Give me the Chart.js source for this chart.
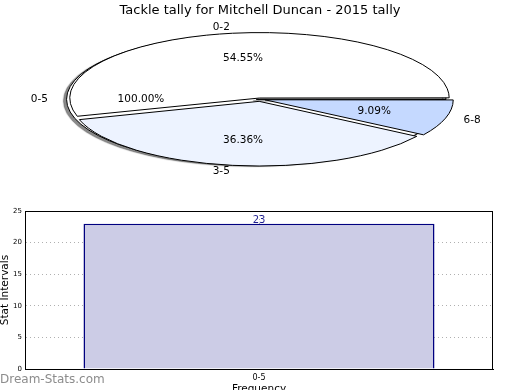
<!DOCTYPE html>
<html>
<head>
<meta charset="utf-8">
<script src="https://cdn.jsdelivr.net/npm/chart.js@4.4.1/dist/chart.umd.min.js"></script>
<style>
  html, body { margin:0; padding:0; background:#fff; }
  #wrap { position:relative; width:520px; height:390px; overflow:hidden; }
  #wrap canvas { position:absolute; left:0; }
  #mark { position:absolute; left:0; top:373px; font:12px/12px "DejaVu Sans"; color:#8c8c8c; white-space:nowrap; }
</style>
</head>
<body>
<div id="wrap">
  <canvas id="back" width="520" height="190" style="top:0"></canvas>
  <canvas id="front" width="520" height="190" style="top:0"></canvas>
  <canvas id="bars" width="520" height="195" style="top:195px"></canvas>
  <div id="mark">Dream-Stats.com</div>
</div>
<script>
// datos del gráfico
const TITLE = "Tackle tally for Mitchell Duncan - 2015 tally";
const pieCategories = ["0-2", "3-5", "6-8"];
const pieCounts = [6, 4, 1];
const pieColours = ["#ffffff", "#edf3ff", "#c5d9ff"];
const totalCategories = ["0-5"];
const totalCounts = [1];
const barCategories = ["0-5"];
const barValues = [23];
const yTicks = [0, 5, 10, 15, 20, 25];

Chart.defaults.font.family = "DejaVu Sans";
Chart.defaults.color = "#000";

const PIE_R = 186;       // radio horizontal
const SQUASH = 0.345;    // relación vertical/horizontal
const EXPLODE = 0.04;    // separación de porciones (fracción del radio)

let backChart = null;    // torta de fondo (0-5), sus etiquetas van encima

// offset de Chart.js equivalente al "explode" de matplotlib
function explodeOffset(c){
  const data = c.dataset.data;
  const tot = data.reduce((a,b)=>a+b,0);
  const circ = data[c.dataIndex]/tot*2*Math.PI;
  const fix = 1 - Math.sin(Math.min(Math.PI, circ));
  return 4*EXPLODE*PIE_R/(1+fix);
}

// etiquetas y porcentajes de una torta (posición como matplotlib)
function drawPieLabels(ctx, chart){
  const meta = chart.getDatasetMeta(0);
  const data = chart.data.datasets[0].data;
  const tot = data.reduce((a,b)=>a+b,0);
  ctx.save();
  ctx.fillStyle = "#000";
  ctx.font = "10.5px 'DejaVu Sans'";
  ctx.textBaseline = "middle";
  meta.data.forEach((arc, i) => {
    const h = (arc.startAngle + arc.endAngle)/2;
    const circ = arc.endAngle - arc.startAngle;
    const fix = 1 - Math.sin(Math.min(Math.PI, circ));
    const t = (arc.options.offset/4)*(1+fix);
    const cx = arc.x + Math.cos(h)*t;
    const cy = arc.y + Math.sin(h)*t*SQUASH;
    const R = arc.outerRadius;
    const lx = cx + 1.1*R*Math.cos(h);
    const ly = cy + 1.1*R*SQUASH*Math.sin(h);
    ctx.textAlign = (lx - arc.x) > 0 ? "left" : "right";
    ctx.fillText(chart.data.labels[i], lx, ly);
    ctx.textAlign = "center";
    const px = cx + 0.6*R*Math.cos(h);
    const py = cy + 0.6*R*SQUASH*Math.sin(h);
    ctx.fillText((100*data[i]/tot).toFixed(2) + "%", px, py);
  });
  ctx.restore();
}

// aplasta la torta en una elipse, con trazos sin deformar
const squashPlugin = {
  id: "squash",
  beforeDatasetsDraw(chart, args, opts){
    const ctx = chart.ctx;
    const arc = chart.getDatasetMeta(0).data[0];
    const dpr = chart.currentDevicePixelRatio;
    ctx.save();
    ctx.translate(arc.x, arc.y);
    ctx.scale(1, SQUASH);
    ctx.translate(-arc.x, -arc.y);
    if (opts.shadow){
      ctx.shadowColor = "rgba(60,60,60,0.6)";
      ctx.shadowOffsetX = -3;
      ctx.shadowOffsetY = 1.5;
      ctx.shadowBlur = 1;
    }
    const stroke = CanvasRenderingContext2D.prototype.stroke;
    ctx.stroke = function(){
      this.save();
      this.setTransform(dpr,0,0,dpr,0,0);
      stroke.apply(this, arguments);
      this.restore();
    };
  },
  afterDatasetsDraw(chart, args, opts){
    const ctx = chart.ctx;
    delete ctx.stroke;
    ctx.restore();
    if (opts.shadow) return; // la de fondo no pone texto
    if (backChart) drawPieLabels(ctx, backChart);
    drawPieLabels(ctx, chart);
  }
};

function pieConfig(labels, values, colours, shadow, titleColour){
  return {
    type: "pie",
    data: {
      labels,
      datasets: [{
        data: values,
        backgroundColor: colours,
        borderColor: "#000",
        borderWidth: 1,
        offset: explodeOffset,
        radius: PIE_R,
        rotation: 90
      }]
    },
    options: {
      responsive: false,
      animation: false,
      events: [],
      radius: PIE_R,
      rotation: 90,
      layout: { padding: { top: 0, bottom: 13, left: 0, right: 0 } },
      plugins: {
        legend: { display: false },
        tooltip: { enabled: false },
        title: {
          display: true, text: TITLE, color: titleColour,
          font: { size: 13, weight: "normal" },
          padding: { top: 3, bottom: 3 }
        },
        squash: { shadow }
      }
    },
    plugins: [squashPlugin]
  };
}

// matplotlib va en sentido antihorario, Chart.js en horario
const rev = a => a.slice().reverse();
backChart = new Chart(document.getElementById("back"),
  pieConfig(totalCategories, totalCounts, ["#ffffff"], true, "rgba(0,0,0,0)"));
new Chart(document.getElementById("front"),
  pieConfig(rev(pieCategories), rev(pieCounts), rev(pieColours), false, "#000"));

// marco completo y valor sobre la barra
const framePlugin = {
  id: "frame",
  afterDatasetsDraw(chart){
    const ctx = chart.ctx;
    ctx.save();
    ctx.font = "10px 'DejaVu Sans'";
    ctx.fillStyle = "#1f1f8f";
    ctx.textAlign = "center";
    ctx.textBaseline = "bottom";
    chart.getDatasetMeta(0).data.forEach((bar, i) => {
      ctx.fillText(String(chart.data.datasets[0].data[i]), bar.x, bar.y + 2);
    });
    ctx.restore();
  },
  afterDraw(chart){
    const a = chart.chartArea, ctx = chart.ctx;
    ctx.save();
    ctx.strokeStyle = "#000";
    ctx.lineWidth = 1;
    ctx.strokeRect(Math.round(a.left)+0.5, Math.round(a.top)+0.5,
      Math.round(a.right-a.left)-1, Math.round(a.bottom-a.top));
    ctx.restore();
  }
};

new Chart(document.getElementById("bars"), {
  type: "bar",
  data: {
    labels: barCategories,
    datasets: [{
      data: barValues,
      backgroundColor: "#ccccE6",
      borderColor: "#000080",
      borderWidth: 1.5,
      categoryPercentage: 1,
      barPercentage: 0.75
    }]
  },
  options: {
    responsive: false,
    animation: false,
    events: [],
    layout: { padding: { top: 16, right: 27, bottom: 0, left: 0 } },
    plugins: { legend: { display: false }, tooltip: { enabled: false } },
    scales: {
      x: {
        offset: true,
        grid: { offset: false, color: "#b0b0b0", drawTicks: false },
        border: { color: "#000", dash: [1, 3] },
        ticks: { font: { size: 8 }, padding: 4 },
        title: { display: true, text: "Frequency", font: { size: 10.5 }, padding: { top: 0, bottom: -6 } },
        afterFit(s){ s.height = 21; }
      },
      y: {
        min: yTicks[0], max: yTicks[yTicks.length-1],
        grid: { color: "#b0b0b0", drawTicks: false },
        border: { color: "#000", dash: [1, 3] },
        ticks: { stepSize: yTicks[1]-yTicks[0], font: { size: 7 }, padding: 3 },
        title: { display: true, text: "Stat Intervals", font: { size: 10.5, lineHeight: 1 }, padding: 0 },
        afterFit(s){ s.width = 25; }
      }
    }
  },
  plugins: [framePlugin]
});
</script>
</body>
</html>
